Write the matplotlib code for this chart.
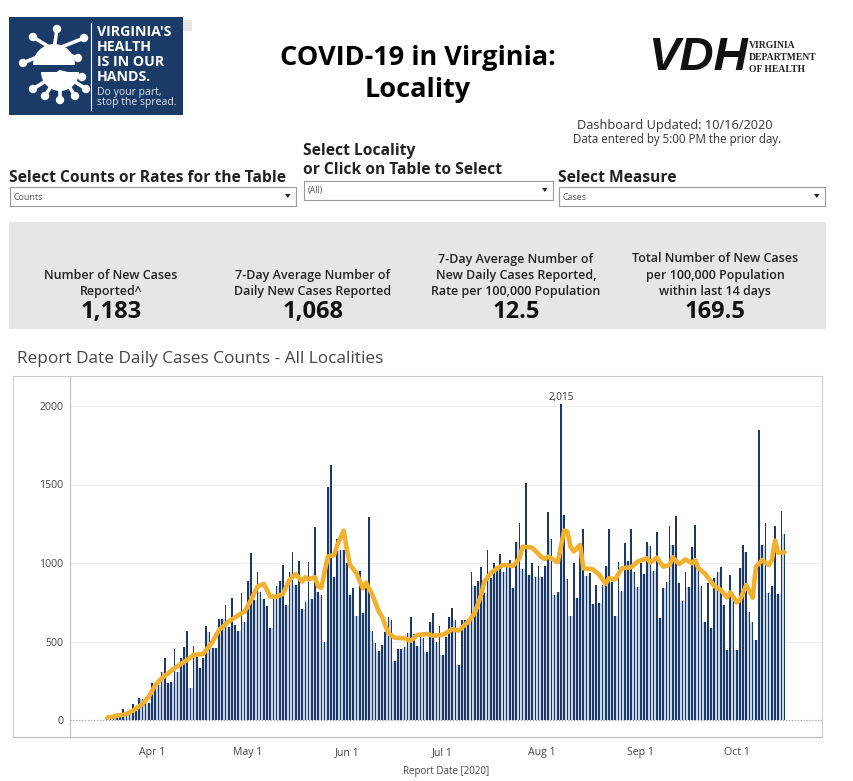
#!/usr/bin/env python3
"""COVID-19 in Virginia dashboard - daily cases by report date."""

import matplotlib.pyplot as plt
import matplotlib.dates as mdates
import numpy as np
import pandas as pd
from matplotlib.patches import Circle, Rectangle, Wedge, Polygon

plt.rcParams['font.family'] = ['Open Sans', 'DejaVu Sans']

W, H = 854, 781
NAVY = '#1b3866'
LIGHT = '#c9d5e3'
GOLD = '#f2b02e'
TEXT = '#333333'

# daily cases, 18 Mar to 16 Oct 2020
dates = pd.date_range('2020-03-18', '2020-10-16')
cases = [5, 15, 20, 25, 40, 67, 30, 40, 102, 55, 142, 131, 146, 106, 233, 233, 222, 307,
         397, 233, 244, 452, 307, 397, 467, 569, 201, 473, 399, 329, 392, 600, 562, 456,
         460, 641, 641, 732, 594, 775, 605, 569, 807, 626, 887, 1061, 764, 945, 817, 768,
         726, 588, 775, 853, 887, 987, 732, 945, 1072, 860, 1015, 707, 754, 1008, 768, 1230,
         817, 796, 499, 1486, 1624, 909, 1153, 1083, 1083, 998, 796, 843, 665, 951, 679, 839,
         1291, 569, 488, 442, 478, 563, 658, 637, 378, 450, 450, 467, 556, 654, 548, 473,
         531, 520, 435, 626, 679, 499, 601, 414, 531, 659, 716, 637, 351, 637, 637, 616,
         945, 854, 886, 977, 807, 1083, 907, 998, 966, 1058, 945, 998, 1019, 843, 1132, 1253,
         960, 1508, 924, 998, 913, 983, 913, 983, 1327, 1151, 797, 818, 2015, 1306, 899, 665,
         998, 780, 1126, 1217, 918, 935, 737, 860, 744, 860, 983, 1215, 882, 663, 1009, 824,
         1126, 1015, 1217, 941, 850, 998, 928, 1132, 1111, 952, 1200, 648, 839, 882, 1235, 1114,
         1301, 874, 758, 945, 849, 1104, 1242, 955, 853, 626, 874, 584, 902, 945, 976, 732,
         446, 923, 764, 446, 966, 1114, 1072, 690, 626, 509, 1845, 1114, 1257, 807, 853, 1235,
         802, 1333, 1183]

# 7-day average (days since 18 Mar)
avg_day = [0, 3, 6, 8, 11, 13, 15, 17, 21, 25, 27, 30, 33, 35, 38, 42, 43, 45, 47, 49,
           51, 53, 55, 57, 59, 61, 62, 63, 65, 66, 67, 69, 71, 72, 74, 75, 76, 78, 80, 81,
           83, 85, 86, 88, 90, 93, 95, 97, 100, 102, 105, 108, 110, 113, 115, 117, 118, 120,
           122, 124, 127, 129, 130, 133, 136, 137, 138, 141, 143, 144, 145, 146, 148, 149, 152,
           154, 156, 157, 159, 161, 164, 166, 169, 170, 172, 174, 176, 177, 179, 181, 183, 184,
           185, 187, 190, 192, 194, 195, 197, 198, 200, 202, 203, 205, 207, 208, 209, 210, 212]
avg_value = [15, 27, 38, 59, 102, 148, 222, 265, 329, 383, 414, 421, 499, 574, 627, 680, 690,
             765, 850, 867, 786, 786, 803, 892, 930, 881, 909, 896, 909, 850, 843, 1040, 1051,
             1115, 1206, 1083, 987, 934, 839, 875, 796, 690, 658, 552, 524, 520, 505, 541, 548,
             537, 542, 578, 569, 627, 680, 797, 881, 934, 966, 988, 981, 1030, 1104, 1098, 1036,
             1026, 1041, 1005, 1206, 1200, 1104, 1073, 1115, 966, 960, 924, 867, 903, 896, 966,
             973, 1009, 1030, 1003, 1034, 977, 987, 1036, 993, 1023, 998, 1019, 966, 934, 853,
             828, 781, 813, 749, 764, 860, 779, 976, 1019, 987, 1019, 1142, 1066, 1068]

y_ticks = [0, 500, 1000, 1500, 2000]
x_ticks = ['2020-04-01', '2020-05-01', '2020-06-01', '2020-07-01',
           '2020-08-01', '2020-09-01', '2020-10-01']
x_labels = ['Apr 1', 'May 1', 'Jun 1', 'Jul 1', 'Aug 1', 'Sep 1', 'Oct 1']

kpi_centers = [111, 313, 516, 715]
kpi_labels = [['Number of New Cases', 'Reported^'],
              ['7-Day Average Number of', 'Daily New Cases Reported'],
              ['7-Day Average Number of', 'New Daily Cases Reported,', 'Rate per 100,000 Population'],
              ['Total Number of New Cases', 'per 100,000 Population', 'within last 14 days']]
kpi_values = ['1,183', '1,068', '12.5', '169.5']

fig = plt.figure(figsize=(W / 100, H / 100), dpi=100)

# everything outside the chart is placed in pixel coords on this layer
pg = fig.add_axes([0, 0, 1, 1], zorder=0)
pg.set_xlim(0, W)
pg.set_ylim(H, 0)
pg.axis('off')


def label(x, y, s, size, ha='left', weight='normal', color=TEXT, **kw):
    # va center sits a bit high for this font
    pg.text(x, y + 2, s, fontsize=size, ha=ha, va='center', fontweight=weight, color=color, **kw)


def draw_logo():
    pg.add_patch(Rectangle((9, 17), 174, 98, fc='#1a3a68', ec='none'))
    pg.add_patch(Rectangle((183, 20), 9, 11, fc='#e6e6e6', ec='none'))
    # virus, top half and bottom half
    spikes = [(54, 50, 57, 29), (54, 50, 84, 38), (54, 50, 23, 63), (54, 50, 33, 37),
              (54, 50, 78, 58), (60, 72, 33, 89), (60, 72, 60, 100), (60, 72, 86, 89),
              (60, 72, 82, 77), (60, 72, 45, 96), (60, 72, 75, 96)]
    for (x0, y0, x1, y1) in spikes:
        pg.plot([x0, x1], [y0, y1], color='white', lw=2.6, solid_capstyle='round')
        pg.add_patch(Circle((x1, y1), 4.2, fc='white', ec='none'))
    pg.add_patch(Wedge((54, 65), 21, 180, 360, fc='white', ec='none'))
    pg.add_patch(Wedge((60, 72), 19, 0, 180, fc='white', ec='none'))
    pg.plot([36, 90], [69, 69], color='#1a3a68', lw=1.6)
    pg.plot([91.5, 91.5], [23, 110], color='white', lw=0.8)
    for y, s in zip([30, 45, 60, 75], ["VIRGINIA'S", 'HEALTH', 'IS IN OUR', 'HANDS.']):
        label(97, y, s, 10.2, weight='bold', color='white')
    label(97, 90, 'Do your part,', 7.5, color='#dfe6ef')
    label(97, 101, 'stop the spread.', 7.5, color='#dfe6ef')


def draw_vdh():
    pg.text(648, 58, 'VDH', fontsize=34, family='Liberation Sans', style='italic',
            fontweight='bold', color='#111111', ha='left', va='center')
    for y, s in zip([46, 58, 70], ['VIRGINIA', 'DEPARTMENT', 'OF HEALTH']):
        pg.text(749, y, s, fontsize=6.9, family='Liberation Serif', fontweight='bold',
                color='#222222', ha='left', va='center')


def draw_header():
    label(418, 56, 'COVID-19 in Virginia:', 19.5, ha='center', weight='bold', color='black')
    label(418, 88, 'Locality', 19.5, ha='center', weight='bold', color='black')
    label(675, 123, 'Dashboard Updated: 10/16/2020', 9.2, ha='center')
    label(677, 138, 'Data entered by 5:00 PM the prior day.', 8.3, ha='center')

    label(9, 176, 'Select Counts or Rates for the Table', 11.25, weight='bold', color='#222222')
    label(303, 149, 'Select Locality', 11.25, weight='bold', color='#222222')
    label(303, 168, 'or Click on Table to Select', 11.25, weight='bold', color='#222222')
    label(558, 176, 'Select Measure', 11.25, weight='bold', color='#222222')

    for x0, x1, y0, s in [(10, 296, 187, 'Counts'), (304, 553, 181, '(All)'), (559, 825, 187, 'Cases')]:
        pg.add_patch(Rectangle((x0, y0), x1 - x0, 18.5, fc='white', ec='#9a9a9a', lw=0.8))
        label(x0 + 4, y0 + 8, s, 6.4, color='#555555')
        pg.add_patch(Polygon([(x1 - 11, y0 + 7), (x1 - 5.5, y0 + 7), (x1 - 8.2, y0 + 11)],
                             fc='#222222', ec='none'))


def draw_kpis():
    pg.add_patch(Rectangle((9, 222), 817, 107, fc='#e6e6e6', ec='none'))
    for cx, lines, val in zip(kpi_centers, kpi_labels, kpi_values):
        y_first = 290 - 16.5 * (len(lines) - 1)
        for j, s in enumerate(lines):
            label(cx, y_first + 16.5 * j, s, 9.0, ha='center', weight='semibold', color='#222222')
        label(cx, 310, val, 17, ha='center', weight='bold', color='#111111')


draw_logo()
draw_vdh()
draw_header()
draw_kpis()
label(17, 357, 'Report Date Daily Cases Counts - All Localities', 12.4, color='#444444')

# chart frame, the pane to the left of the axis belongs to it
pg.plot([13, 822], [376, 376], color='#cccccc', lw=0.8)
pg.plot([13, 13], [376, 737], color='#cccccc', lw=0.8)
pg.plot([13, 822], [737, 737], color='#bbbbbb', lw=0.8)

# chart
ax = fig.add_axes([70 / W, (H - 737) / H, (822 - 70) / W, (737 - 376) / H], zorder=1)
ax.patch.set_alpha(0)
x = mdates.date2num(dates)
vals = np.array(cases)

ax.set_axisbelow(True)
ax.yaxis.grid(True, color='#eeeeee', lw=0.8)
ax.axhline(0, color='#aaaaaa', lw=0.8, ls=':', zorder=1)

# the fuzzy pale strip between neighbouring bars in the screenshot
ax.bar(x[:-1] + 0.5, np.minimum(vals[:-1], vals[1:]), width=1.0, color=LIGHT, lw=0, zorder=2)
ax.bar(x, vals, width=0.52, color=NAVY, lw=0, zorder=3)
ax.plot(x[0] + np.array(avg_day), avg_value, color=GOLD, lw=3.3, zorder=4,
        solid_joinstyle='round', solid_capstyle='round')

peak = int(np.argmax(vals))
ax.annotate(f'{vals[peak]:,}', (x[peak], vals[peak]), xytext=(0, 0.5), textcoords='offset points',
            ha='center', va='bottom', fontsize=7.2, color=TEXT)

# Apr 1 sits at pixel 152 and one day is about 3.2 px
px_day = 3.195
x_apr = mdates.date2num(pd.Timestamp('2020-04-01'))
ax.set_xlim(x_apr - (152 - 70) / px_day, x_apr + (822 - 152) / px_day)
ax.set_ylim(-(737 - 720) / 0.157, (720 - 376) / 0.157)

ax.set_yticks(y_ticks)
ax.set_xticks(mdates.date2num(pd.to_datetime(x_ticks)))
ax.set_xticklabels(x_labels)
ax.tick_params(axis='both', length=0, labelsize=7.6, labelcolor='#444444')
ax.tick_params(axis='x', pad=7.5)
ax.tick_params(axis='y', pad=5)
ax.set_xlabel('Report Date [2020]', fontsize=7, color='#444444', labelpad=5.5)

for side in ['top', 'bottom']:
    ax.spines[side].set_visible(False)
ax.spines['left'].set_color('#bbbbbb')
ax.spines['right'].set_color('#cccccc')
for side in ['left', 'right']:
    ax.spines[side].set_linewidth(0.8)

fig.savefig('out.png', dpi=100)
